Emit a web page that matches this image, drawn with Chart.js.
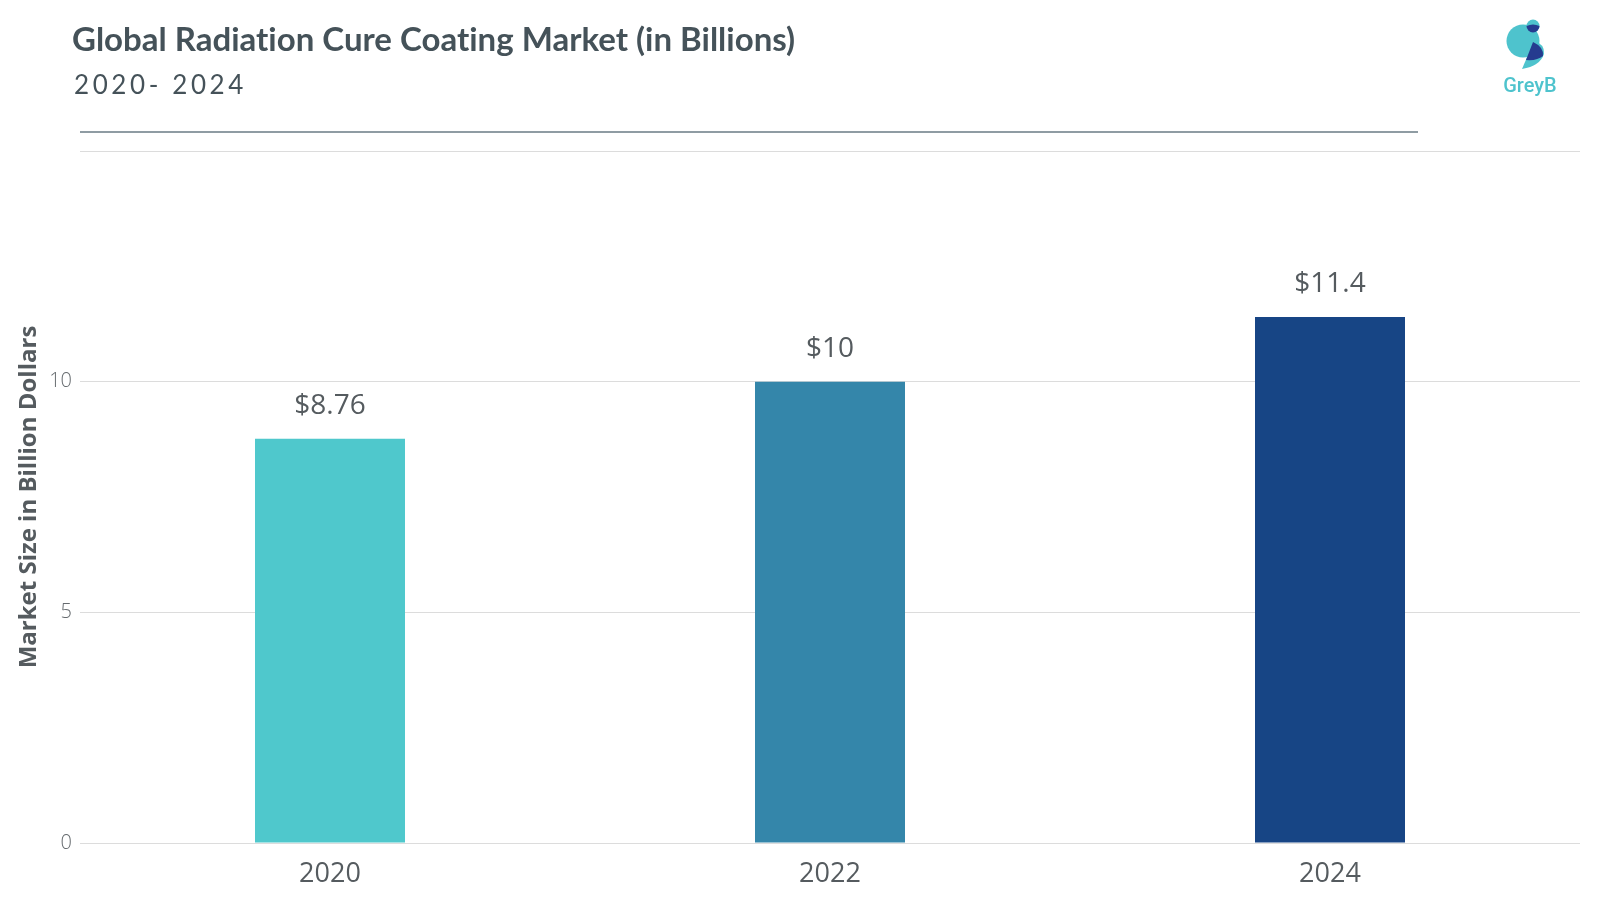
<!DOCTYPE html>
<html>
<head>
<meta charset="utf-8">
<script src="https://cdn.jsdelivr.net/npm/chart.js@4"></script>
<style>
  html, body { margin: 0; padding: 0; background: #fff; }
  #wrap { position: relative; width: 1600px; height: 900px; overflow: hidden; }
  #c { position: absolute; left: 0; top: 0; }
  #title { position: absolute; left: 72px; top: 18px; font-family: Lato, sans-serif; font-weight: 700; font-size: 33px; color: #455259; white-space: nowrap; letter-spacing: 0px; font-variant-ligatures: none; }
  #subtitle { position: absolute; left: 74px; top: 68px; font-family: Lato, sans-serif; font-weight: 400; font-size: 26px; color: #455259; letter-spacing: 3.6px; white-space: nowrap; }
  #rule { position: absolute; left: 80px; top: 131px; width: 1338px; height: 2px; background: #8f9ca3; }
  #logo { position: absolute; left: 1490px; top: 14px; }
</style>
</head>
<body>
<div id="wrap">
  <canvas id="c" width="1600" height="900"></canvas>
  <div id="title">Global Radiation Cure Coating Market (in Billions)</div>
  <div id="subtitle">2020- 2024</div>
  <div id="rule"></div>
  <svg id="logo" width="80" height="85" viewBox="0 0 80 85">
    <circle cx="33" cy="27" r="16.5" fill="#4ec3cd"/>
    <path d="M32 55 Q50 52 54 40 Q55 30 44 27 Z" fill="#4ec3cd"/>
    <circle cx="43" cy="12" r="6.5" fill="#4ec3cd"/>
    <path d="M36.5 12 A6.5 6.5 0 0 0 49.5 12 Q43 9 36.5 12 Z" fill="#253b8f"/>
    <path d="M43 28 Q54 33 53 42 Q47 47 36 46 Z" fill="#253b8f"/>
    <text x="40" y="78" text-anchor="middle" font-family="Roboto, sans-serif" font-size="20" font-weight="500" fill="#4ec3cd">GreyB</text>
  </svg>
</div>
<script>
const categories = ['2020', '2022', '2024'];
const values = [8.76, 10, 11.4];
const valueLabels = ['$8.76', '$10', '$11.4'];
const barColors = ['#4fc8cc', '#3486aa', '#174585'];
const yTicks = [0, 5, 10, 15];

const valueLabelPlugin = {
  id: 'valueLabels',
  afterDatasetsDraw(chart) {
    const ctx = chart.ctx;
    const meta = chart.getDatasetMeta(0);
    ctx.save();
    ctx.font = '28px "Open Sans", sans-serif';
    ctx.fillStyle = '#555b5f';
    ctx.textAlign = 'center';
    ctx.textBaseline = 'middle';
    meta.data.forEach((bar, i) => {
      ctx.fillText(valueLabels[i], bar.x, bar.y - 33);
    });
    ctx.restore();
  }
};

new Chart(document.getElementById('c'), {
  type: 'bar',
  data: {
    labels: categories,
    datasets: [{
      data: values,
      backgroundColor: barColors,
      borderWidth: 0,
      categoryPercentage: 1,
      barPercentage: 0.3
    }]
  },
  options: {
    responsive: false,
    animation: false,
    devicePixelRatio: 1,
    layout: { padding: { top: 151, right: 20, left: 0, bottom: 0 } },
    plugins: { legend: { display: false }, tooltip: { enabled: false }, title: { display: false } },
    scales: {
      x: {
        grid: { display: false },
        border: { display: false },
        ticks: { color: '#555b5f', font: { family: 'Open Sans', size: 27 }, padding: 7 },
        afterFit(scale) { scale.height = 57; }
      },
      y: {
        min: 0, max: 15,
        afterBuildTicks(scale) { scale.ticks = yTicks.map(v => ({ value: v })); },
        grid: { color: '#dcdcdc', lineWidth: 1, drawTicks: false },
        border: { display: false },
        ticks: {
          color: '#666b6f', font: { family: 'Open Sans', size: 20, weight: 300 }, padding: 8,
          callback: (v) => (v === 15 ? '' : String(v))
        },
        title: {
          display: true, text: 'Market Size in Billion Dollars', color: '#555b5f',
          font: { family: 'Open Sans', size: 24, weight: 'bold' }, padding: { top: 15, bottom: 0 }
        },
        afterFit(scale) { scale.width = 80; }
      }
    }
  },
  plugins: [valueLabelPlugin]
});
</script>
</body>
</html>
